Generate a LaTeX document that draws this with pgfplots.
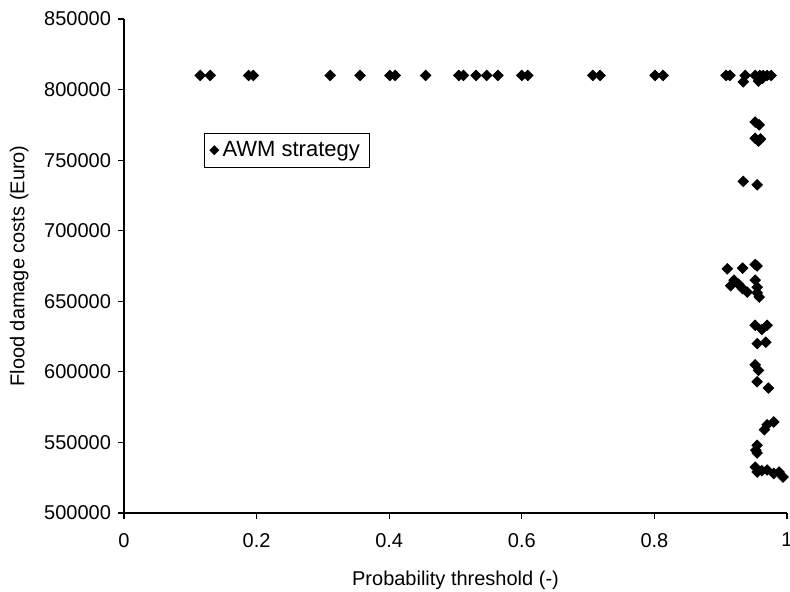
\documentclass[border=0pt]{standalone}
\usepackage{fontspec}
\setmainfont{Liberation Sans}
\usepackage{pgfplots}
\pgfplotsset{compat=1.18}
\begin{document}
\begin{tikzpicture}
\begin{axis}[
  scale only axis, width=331.5pt, height=247pt,
  xmin=0, xmax=1, ymin=500000, ymax=850000,
  scaled x ticks=false, scaled y ticks=false,
  xtick={0,0.2,0.4,0.6,0.8,1},
  xticklabels={0,0.2,0.4,0.6,0.8,1},
  ytick={500000,550000,600000,650000,700000,750000,800000,850000},
  yticklabels={500000,550000,600000,650000,700000,750000,800000,850000},
  axis x line*=bottom, axis y line*=left,
  axis line style={line width=0.6pt},
  tick align=outside, major tick length=3pt,
  tick style={line width=0.6pt, black},
  xticklabel style={yshift=-3.5pt},
  xlabel={Probability threshold (-)},
  ylabel={Flood damage costs (Euro)},
  xlabel style={yshift=-5pt},
  ylabel style={yshift=1pt},
  legend style={at={(axis description cs:0.12,0.77)}, anchor=north west,
    draw=black, line width=0.5pt, font=\fontsize{11}{13}\selectfont,
    inner xsep=3pt, inner ysep=2pt},
  legend image code/.code={\draw[mark repeat=2,mark phase=2,mark size=1.5pt] plot coordinates {(0cm,0cm) (0.2cm,0cm) (0.4cm,0cm)};},
  legend cell align=left,
  clip=false,
]
\addplot[only marks, mark=square*, mark size=1.85pt, mark options={rotate=45, fill=black, draw=black}] table {
x y
0.115 810000
0.130 810000
0.188 810000
0.195 810000
0.311 810000
0.356 810000
0.401 810000
0.409 810000
0.455 810000
0.505 810000
0.512 810000
0.531 810000
0.547 810000
0.564 810000
0.600 810000
0.609 810000
0.707 810000
0.718 810000
0.801 810000
0.813 810000
0.908 810000
0.914 810000
0.937 810000
0.952 810000
0.959 810000
0.964 810000
0.970 810000
0.976 810000
0.934 805500
0.957 806000
0.963 808000
0.952 777000
0.958 775000
0.952 765500
0.957 763500
0.960 765000
0.934 735000
0.955 732500
0.910 673000
0.933 673500
0.952 676000
0.955 675000
0.920 665000
0.915 661000
0.927 662000
0.933 659000
0.940 656500
0.952 665000
0.955 660000
0.955 656000
0.958 653000
0.952 633000
0.970 633000
0.962 630000
0.955 620000
0.968 621000
0.952 605000
0.957 601000
0.955 593000
0.972 588500
0.980 564500
0.970 562500
0.966 559000
0.955 548000
0.953 544500
0.955 542500
0.952 532500
0.955 529000
0.962 530000
0.970 530500
0.980 528000
0.988 529000
0.994 525500
};
\addlegendentry{AWM strategy}
\end{axis}
\pgfresetboundingbox
\path ([xshift=-62pt,yshift=-39.5pt]current axis.south west) rectangle ([xshift=333pt,yshift=256.5pt]current axis.south west);
\end{tikzpicture}
\end{document}
